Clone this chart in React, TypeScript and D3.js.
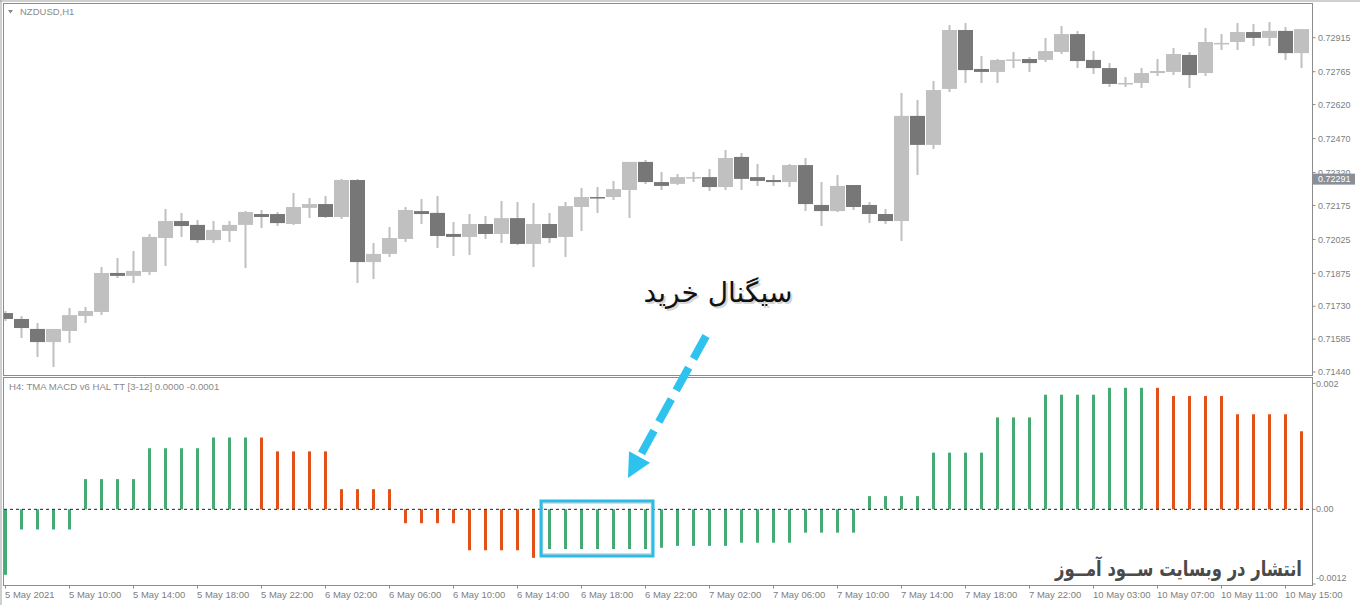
import React, { useEffect } from 'react';
import * as d3 from 'd3';

const W = 1360;
const H = 605;

// Candles (NZDUSD H1)
const opens = [0.71700,0.71674,0.71630,0.71572,0.71621,0.71687,0.71705,0.71877,0.71864,0.71881,0.72031,0.72106,0.72089,0.72022,0.72062,0.72089,0.72137,0.72137,0.72093,0.72164,0.72181,0.72124,0.72287,0.71925,0.71961,0.72027,0.72150,0.72142,0.72049,0.72036,0.72093,0.72049,0.72119,0.72005,0.72093,0.72036,0.72168,0.72212,0.72212,0.72243,0.72367,0.72278,0.72270,0.72298,0.72300,0.72256,0.72389,0.72300,0.72287,0.72278,0.72353,0.72177,0.72150,0.72265,0.72177,0.72137,0.72106,0.72570,0.72442,0.72689,0.72949,0.72777,0.72764,0.72817,0.72821,0.72817,0.72852,0.72931,0.72817,0.72781,0.72713,0.72715,0.72759,0.72764,0.72839,0.72759,0.72890,0.72896,0.72940,0.72914,0.72945,0.72847];
const highs = [0.71709,0.71687,0.71656,0.71630,0.71722,0.71727,0.71903,0.71943,0.71974,0.72049,0.72159,0.72142,0.72111,0.72106,0.72106,0.72150,0.72155,0.72146,0.72230,0.72208,0.72217,0.72292,0.72292,0.72009,0.72080,0.72168,0.72203,0.72217,0.72102,0.72137,0.72128,0.72194,0.72190,0.72186,0.72142,0.72190,0.72252,0.72256,0.72283,0.72367,0.72375,0.72322,0.72314,0.72322,0.72336,0.72420,0.72406,0.72358,0.72309,0.72358,0.72384,0.72278,0.72309,0.72265,0.72190,0.72159,0.72671,0.72640,0.72724,0.72971,0.72980,0.72834,0.72821,0.72852,0.72830,0.72914,0.72967,0.72945,0.72856,0.72803,0.72742,0.72781,0.72821,0.72870,0.72852,0.72958,0.72931,0.72980,0.72975,0.72984,0.72962,0.72953];
const lows = [0.71665,0.71590,0.71506,0.71462,0.71568,0.71656,0.71691,0.71855,0.71833,0.71868,0.71908,0.72036,0.72009,0.72009,0.72014,0.71899,0.72075,0.72084,0.72089,0.72119,0.72119,0.72115,0.71833,0.71850,0.71947,0.72014,0.72093,0.71987,0.71952,0.71956,0.72027,0.72009,0.72000,0.71903,0.72009,0.71947,0.72062,0.72142,0.72199,0.72119,0.72270,0.72243,0.72265,0.72278,0.72239,0.72243,0.72243,0.72261,0.72261,0.72256,0.72150,0.72084,0.72146,0.72155,0.72097,0.72093,0.72018,0.72309,0.72424,0.72675,0.72715,0.72715,0.72715,0.72781,0.72764,0.72808,0.72843,0.72781,0.72755,0.72697,0.72697,0.72693,0.72746,0.72750,0.72693,0.72746,0.72861,0.72861,0.72878,0.72878,0.72817,0.72781];
const closes = [0.71674,0.71634,0.71572,0.71630,0.71691,0.71709,0.71877,0.71864,0.71886,0.72036,0.72106,0.72084,0.72022,0.72067,0.72089,0.72146,0.72124,0.72097,0.72168,0.72181,0.72124,0.72287,0.71925,0.71961,0.72031,0.72155,0.72137,0.72040,0.72036,0.72093,0.72049,0.72119,0.72005,0.72093,0.72031,0.72172,0.72212,0.72208,0.72247,0.72367,0.72278,0.72261,0.72300,0.72300,0.72256,0.72384,0.72292,0.72283,0.72278,0.72353,0.72181,0.72150,0.72261,0.72168,0.72137,0.72106,0.72570,0.72442,0.72684,0.72949,0.72772,0.72764,0.72817,0.72819,0.72803,0.72856,0.72931,0.72812,0.72781,0.72711,0.72715,0.72759,0.72768,0.72843,0.72750,0.72896,0.72892,0.72940,0.72914,0.72945,0.72847,0.72953];

// TMA MACD histogram
const histValues = [-0.00104,-0.00032,-0.00032,-0.00032,-0.00032,0.00048,0.00048,0.00048,0.00048,0.00097,0.00097,0.00097,0.00097,0.00114,0.00114,0.00114,0.00114,0.00092,0.00092,0.00092,0.00092,0.00032,0.00032,0.00032,0.00032,-0.00022,-0.00022,-0.00022,-0.00022,-0.00065,-0.00065,-0.00065,-0.00065,-0.00077,-0.00063,-0.00063,-0.00063,-0.00063,-0.00063,-0.00063,-0.00063,-0.00061,-0.00058,-0.00058,-0.00058,-0.00058,-0.00053,-0.00053,-0.00053,-0.00053,-0.00037,-0.00037,-0.00037,-0.00037,0.00021,0.00021,0.00021,0.00021,0.00090,0.00090,0.00090,0.00090,0.00146,0.00146,0.00146,0.00182,0.00182,0.00182,0.00182,0.00193,0.00193,0.00193,0.00193,0.00180,0.00180,0.00180,0.00180,0.00151,0.00151,0.00151,0.00151,0.00124];
// 1 = rising (green), 0 = falling (red)
const histRising = [1,1,1,1,1,1,1,1,1,1,1,1,1,1,1,1,0,0,0,0,0,0,0,0,0,0,0,0,0,0,0,0,0,0,1,1,1,1,1,1,1,1,1,1,1,1,1,1,1,1,1,1,1,1,1,1,1,1,1,1,1,1,1,1,1,1,1,1,1,1,1,1,0,0,0,0,0,0,0,0,0,0];

const timeLabels = ['5 May 2021','5 May 10:00','5 May 14:00','5 May 18:00','5 May 22:00','6 May 02:00','6 May 06:00','6 May 10:00','6 May 14:00','6 May 18:00','6 May 22:00','7 May 02:00','7 May 06:00','7 May 10:00','7 May 14:00','7 May 18:00','7 May 22:00','10 May 03:00','10 May 07:00','10 May 11:00','10 May 15:00'];
const priceTicks = [0.72915,0.72765,0.72620,0.72470,0.72320,0.72175,0.72025,0.71875,0.71730,0.71585,0.71440];
const currentPrice = 0.72291;
const macdTicks = [0.002, 0, -0.0012];
const macdTickLabels = ['0.002', '0.00', '-0.0012'];

const FONT = '"Liberation Sans", Arial, sans-serif';
const AR_FONT = '"DejaVu Sans", sans-serif';

export default function App() {
  useEffect(() => {
    document.body.style.margin = '0';
  }, []);

  const n = opens.length;
  const x = d3.scaleLinear().domain([0, n - 1]).range([5.5, 5.5 + 16 * (n - 1)]);
  const yP = d3.scaleLinear().domain([0.7144, 0.72915]).range([372, 37.7]);
  const yM = d3.scaleLinear().domain([-0.0012, 0.002]).range([584.9, 383.4]);

  const left = 4, right = 1312.5;
  const mainTop = 3.5, mainBottom = 375.5;
  const subTop = 377.5, subBottom = 585.5;
  const bodyW = 15;

  const arrowStart = [706, 336];
  const arrowTip = [628, 478];
  const dx = arrowTip[0] - arrowStart[0];
  const dy = arrowTip[1] - arrowStart[1];
  const len = Math.hypot(dx, dy);
  const ux = dx / len, uy = dy / len;
  const headLen = 24, headHalf = 12;
  const baseX = arrowTip[0] - ux * headLen, baseY = arrowTip[1] - uy * headLen;
  const head = `${arrowTip[0]},${arrowTip[1]} ${baseX - uy * headHalf},${baseY + ux * headHalf} ${baseX + uy * headHalf},${baseY - ux * headHalf}`;

  return (
    <svg width={W} height={H} style={{ display: 'block', position: 'absolute', left: 0, top: 0, background: '#fff' }} fontFamily={FONT}>
      <defs>
        <clipPath id="mainClip"><rect x={left} y={mainTop} width={right - left} height={mainBottom - mainTop} /></clipPath>
        <clipPath id="subClip"><rect x={left} y={subTop} width={right - left} height={subBottom - subTop} /></clipPath>
      </defs>
      <rect x={0} y={0} width={W} height={H} fill="#fff" />
      {/* outer frame */}
      <line x1={0} x2={W} y1={1} y2={1} stroke="#a0a0a0" />
      <line x1={1} x2={1} y1={0} y2={H} stroke="#a0a0a0" />
      <rect x={3.5} y={mainTop} width={right - 3.5} height={mainBottom - mainTop} fill="none" stroke="#8c8c8c" />
      <rect x={3.5} y={subTop} width={right - 3.5} height={subBottom - subTop} fill="none" stroke="#8c8c8c" />

      {/* candles */}
      <g clipPath="url(#mainClip)">
        {opens.map((o, i) => {
          const c = closes[i];
          const up = c >= o;
          const cx = x(i);
          const yt = yP(Math.max(o, c));
          const yb = yP(Math.min(o, c));
          const h = Math.max(yb - yt, 1.5);
          return (
            <g key={i}>
              <line x1={cx} x2={cx} y1={yP(highs[i])} y2={yP(lows[i])} stroke="#c0c0c0" strokeWidth={2} />
              <rect x={cx - bodyW / 2} y={yt} width={bodyW} height={h} fill={up ? '#c0c0c0' : '#777777'} />
            </g>
          );
        })}
      </g>

      {/* symbol title */}
      <path d="M8,10 L13,10 L10.5,13.5 Z" fill="#888" />
      <text x={20} y={15} fontSize={9.5} fill="#8a8a8a">NZDUSD,H1</text>

      {/* price axis */}
      {priceTicks.map((p, i) => (
        <g key={i}>
          <line x1={right} x2={right + 3} y1={yP(p)} y2={yP(p)} stroke="#8c8c8c" />
          <text x={1318} y={yP(p)} dy="0.35em" fontSize={9} fill="#808080">{p.toFixed(5)}</text>
        </g>
      ))}
      <rect x={1313} y={yP(currentPrice) - 5.5} width={42} height={11} fill="#8a9097" />
      <text x={1318} y={yP(currentPrice)} dy="0.35em" fontSize={9} fill="#fff">{currentPrice.toFixed(5)}</text>

      {/* indicator panel */}
      <text x={9} y={390} fontSize={9.6} fill="#8a8a8a">H4: TMA MACD v6 HAL TT [3-12] 0.0000 -0.0001</text>
      <g clipPath="url(#subClip)">
        {histValues.map((v, i) => (
          <rect key={i} x={x(i) - 1.5} y={Math.min(yM(0), yM(v))} width={3} height={Math.abs(yM(v) - yM(0))}
            fill={histRising[i] ? '#45ab73' : '#e4501a'} />
        ))}
        <line x1={left} x2={right} y1={yM(0)} y2={yM(0)} stroke="#222" strokeDasharray="3,3" />
      </g>
      {macdTicks.map((v, i) => (
        <g key={i}>
          <line x1={right} x2={right + 3} y1={Math.min(yM(v), 584)} y2={Math.min(yM(v), 584)} stroke="#8c8c8c" />
          <text x={1316} y={Math.min(yM(v), 578)} dy="0.35em" fontSize={9} fill="#808080">{macdTickLabels[i]}</text>
        </g>
      ))}

      {/* time axis */}
      {timeLabels.map((t, k) => {
        const cx = x(k * 4);
        return (
          <g key={k}>
            <line x1={cx} x2={cx} y1={subBottom} y2={subBottom + 3} stroke="#8c8c8c" />
            <text x={cx - 0.5} y={598} fontSize={9.5} fill="#808080">{t}</text>
          </g>
        );
      })}

      {/* annotations */}
      <text x={720} y={304} fontSize={28} textAnchor="middle" fill="#bbbbbb" opacity={0.6} fontFamily={AR_FONT}>سیگنال خرید</text>
      <text x={718} y={302} fontSize={28} textAnchor="middle" fill="#111" fontFamily={AR_FONT}>سیگنال خرید</text>

      <line x1={arrowStart[0]} y1={arrowStart[1]} x2={baseX + ux * 2} y2={baseY + uy * 2} stroke="#2ec3ee" strokeWidth={8} strokeDasharray="26,10" />
      <polygon points={head} fill="#2ec3ee" />

      <rect x={542.5} y={503} width={109} height={51} fill="none" stroke="#cfcfcf" strokeWidth={1.5} />
      <rect x={541} y={501} width={112} height={55} fill="none" stroke="#2bbde8" strokeWidth={3} />

      <text x={1302} y={576} fontSize={21} fontWeight="bold" textAnchor="end" fill="#4a4a4a" fontFamily={AR_FONT}
        textLength={247} lengthAdjust="spacingAndGlyphs">انتشار در وبسایت ســود آمــوز</text>
    </svg>
  );
}
